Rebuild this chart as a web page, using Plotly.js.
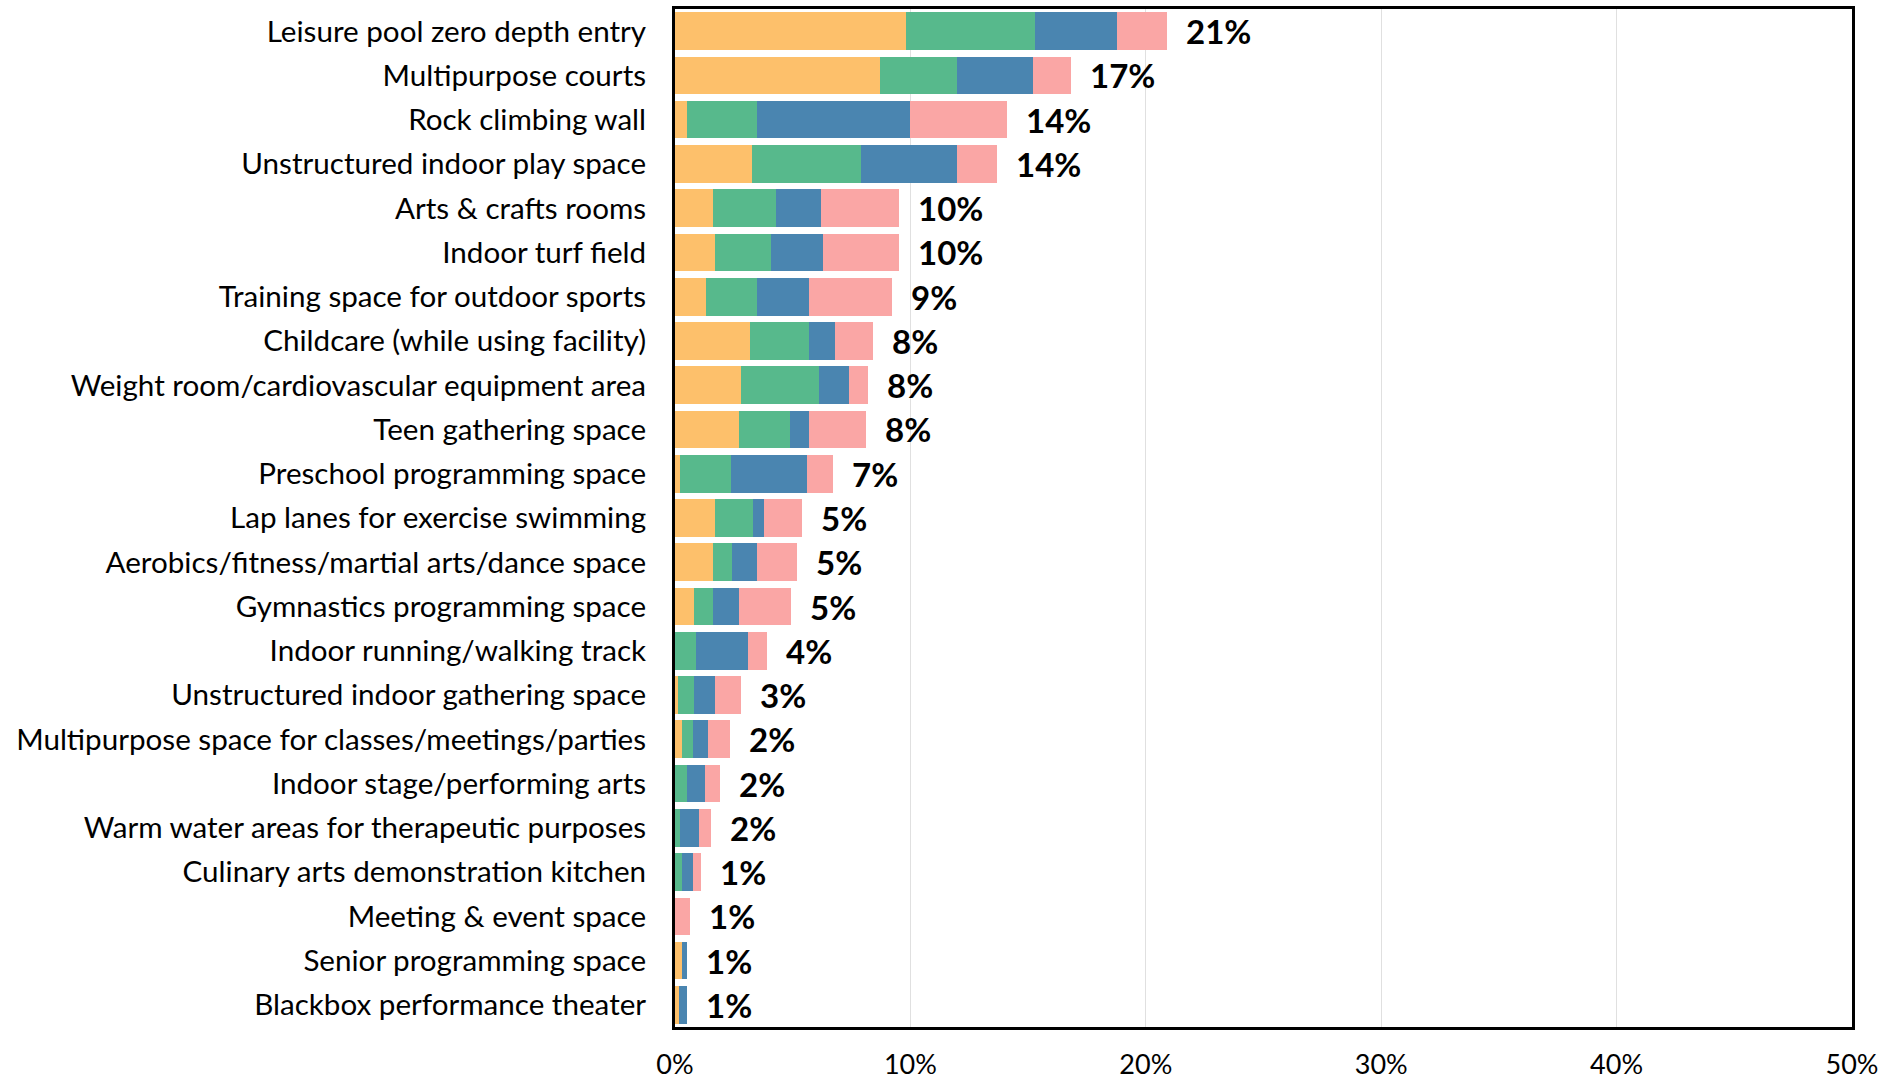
<!DOCTYPE html>
<html>
<head>
<meta charset="utf-8">
<script src="https://cdn.plot.ly/plotly-3.0.1.min.js"></script>
<style>
  html, body { margin: 0; padding: 0; background: #fff; }
  #chart { width: 1902px; height: 1079px; }
</style>
</head>
<body>
<div id="chart"></div>
<script>
const categories = [
  "Leisure pool zero depth entry",
  "Multipurpose courts",
  "Rock climbing wall",
  "Unstructured indoor play space",
  "Arts & crafts rooms",
  "Indoor turf field",
  "Training space for outdoor sports",
  "Childcare (while using facility)",
  "Weight room/cardiovascular equipment area",
  "Teen gathering space",
  "Preschool programming space",
  "Lap lanes for exercise swimming",
  "Aerobics/fitness/martial arts/dance space",
  "Gymnastics programming space",
  "Indoor running/walking track",
  "Unstructured indoor gathering space",
  "Multipurpose space for classes/meetings/parties",
  "Indoor stage/performing arts",
  "Warm water areas for therapeutic purposes",
  "Culinary arts demonstration kitchen",
  "Meeting & event space",
  "Senior programming space",
  "Blackbox performance theater"
];

// Segment values (percent)
const seriesYellow = [9.8, 8.72, 0.51, 3.27, 1.62, 1.71, 1.32, 3.19, 2.80, 2.73, 0.21, 1.71, 1.62, 0.81, 0, 0.12, 0.30, 0, 0, 0, 0, 0.30, 0.17];
const seriesGreen  = [5.5, 3.26, 2.97, 4.64, 2.68, 2.37, 2.16, 2.50, 3.33, 2.16, 2.16, 1.60, 0.81, 0.81, 0.89, 0.69, 0.47, 0.51, 0.21, 0.30, 0, 0, 0];
const seriesBlue   = [3.47, 3.24, 6.51, 4.07, 1.90, 2.21, 2.21, 1.11, 1.27, 0.80, 3.25, 0.47, 1.05, 1.11, 2.21, 0.90, 0.64, 0.77, 0.81, 0.47, 0, 0.21, 0.34];
const seriesPink   = [2.13, 1.60, 4.12, 1.71, 3.33, 3.24, 3.54, 1.62, 0.81, 2.43, 1.09, 1.63, 1.70, 2.20, 0.81, 1.09, 0.93, 0.64, 0.51, 0.34, 0.63, 0, 0];
const totalLabels  = ["21%", "17%", "14%", "14%", "10%", "10%", "9%", "8%", "8%", "8%", "7%", "5%", "5%", "5%", "4%", "3%", "2%", "2%", "2%", "1%", "1%", "1%", "1%"];
const xTickVals = [0, 10, 20, 30, 40, 50];
const xTickText = ["0%", "10%", "20%", "30%", "40%", "50%"];

const colors = ["#FDC06B", "#57B98C", "#4A85B0", "#FAA6A5"];
const seriesList = [seriesYellow, seriesGreen, seriesBlue, seriesPink];

const traces = seriesList.map((vals, i) => ({
  type: "bar",
  orientation: "h",
  y: categories,
  x: vals,
  marker: { color: colors[i], line: { width: 0 } },
  hoverinfo: "skip",
  showlegend: false
}));

const totals = categories.map((c, i) => seriesList.reduce((s, arr) => s + arr[i], 0));

const annotations = categories.map((c, i) => ({
  x: totals[i],
  y: c,
  xref: "x",
  yref: "y",
  text: totalLabels[i],
  showarrow: false,
  xanchor: "left",
  yanchor: "middle",
  xshift: 17,
  font: { family: "Lato, sans-serif", size: 33, color: "#000", weight: 700 }
}));

const layout = {
  width: 1902,
  height: 1079,
  barmode: "stack",
  bargap: 0.15,
  paper_bgcolor: "#fff",
  plot_bgcolor: "#fff",
  margin: { l: 675, r: 50, t: 9, b: 52, pad: 0 },
  showlegend: false,
  font: { family: "Lato, sans-serif", color: "#000" },
  xaxis: {
    range: [0, 50],
    tickvals: xTickVals,
    ticktext: xTickText,
    showgrid: true,
    gridcolor: "#e0e0e0",
    gridwidth: 1,
    zeroline: false,
    showline: true,
    linecolor: "#000",
    linewidth: 3,
    mirror: true,
    ticks: "outside",
    ticklen: 12,
    tickcolor: "rgba(0,0,0,0)",
    tickfont: { family: "Lato, sans-serif", size: 27, color: "#000" },
    fixedrange: true
  },
  yaxis: {
    type: "category",
    autorange: "reversed",
    showgrid: false,
    zeroline: false,
    showline: true,
    linecolor: "#000",
    linewidth: 3,
    mirror: true,
    ticks: "outside",
    ticklen: 20,
    tickcolor: "rgba(0,0,0,0)",
    tickfont: { family: "Lato, sans-serif", size: 29.6, color: "#000" },
    fixedrange: true
  },
  annotations: annotations
};

Plotly.newPlot("chart", traces, layout, { displayModeBar: false, staticPlot: true });
</script>
</body>
</html>
